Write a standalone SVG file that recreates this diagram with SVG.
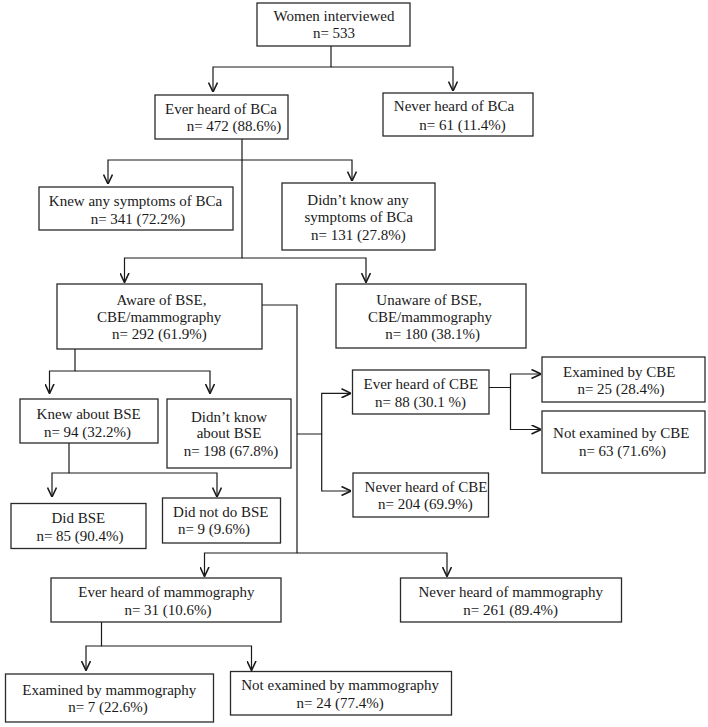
<svg xmlns="http://www.w3.org/2000/svg" width="708" height="727" viewBox="0 0 708 727">
<style>
.box{fill:#fff;stroke:#2a2a2a;stroke-width:1.3}
.t{font-family:"Liberation Serif","Times New Roman",serif;font-size:15px;fill:#1a1a1a;text-anchor:middle}
.c{fill:none;stroke:#1a1a1a;stroke-width:1.2}
</style>
<defs>
<marker id="ah" viewBox="0 0 10 10" refX="10" refY="5" markerWidth="10" markerHeight="10" markerUnits="userSpaceOnUse" orient="auto">
<path d="M0.5,0.5 L10,5 L0.5,9.5" fill="none" stroke="#1a1a1a" stroke-width="1.6"/>
</marker>
</defs>
<rect width="708" height="727" fill="#fff"/>
<g id="connectors">
<path class="c" marker-end="url(#ah)" d="M331,46 V67 H213 V92"/>
<path class="c" marker-end="url(#ah)" d="M331,67 H453 V91"/>
<path class="c" marker-end="url(#ah)" d="M242,139 V160 H108 V184"/>
<path class="c" marker-end="url(#ah)" d="M242,160 H352 V181"/>
<path class="c" marker-end="url(#ah)" d="M242,160 V258 H124.5 V282.5"/>
<path class="c" marker-end="url(#ah)" d="M242,258 H366 V282.5"/>
<path class="c" marker-end="url(#ah)" d="M75,349 V371 H49.5 V393.5"/>
<path class="c" marker-end="url(#ah)" d="M75,371 H210 V393.5"/>
<path class="c" marker-end="url(#ah)" d="M69,443 V473 H52 V497"/>
<path class="c" marker-end="url(#ah)" d="M69,473 H217 V497"/>
<path class="c" marker-end="url(#ah)" d="M262,305 H297 V553 H204.5 V576.5"/>
<path class="c" marker-end="url(#ah)" d="M297,553 H447 V576.5"/>
<path class="c" marker-end="url(#ah)" d="M297,434 H321.7 V393.3 H351"/>
<path class="c" marker-end="url(#ah)" d="M321.7,434 V491 H351"/>
<path class="c" marker-end="url(#ah)" d="M489,387.5 H510.5 V374 H541"/>
<path class="c" marker-end="url(#ah)" d="M510.5,387.5 V429.5 H541"/>
<path class="c" marker-end="url(#ah)" d="M101.5,622 V646 H86 V670.5"/>
<path class="c" marker-end="url(#ah)" d="M101.5,646 H251.5 V670.5"/>
</g>
<g id="n1"><rect class="box" x="257" y="3" width="153" height="43"/><text class="t" x="334" y="21">Women interviewed</text><text class="t" x="334" y="37.5">n= 533</text></g>
<g id="n2"><rect class="box" x="155" y="95" width="133" height="44"/><text class="t" x="221" y="114">Ever heard of BCa</text><text class="t" x="234" y="131">n= 472 (88.6%)</text></g>
<g id="n3"><rect class="box" x="383" y="93" width="150" height="43"/><text class="t" x="454" y="111">Never heard of BCa</text><text class="t" x="462.5" y="129.5">n= 61 (11.4%)</text></g>
<g id="n4"><rect class="box" x="39" y="187" width="194" height="43"/><text class="t" x="135.5" y="206">Knew any symptoms of BCa</text><text class="t" x="138" y="224">n= 341 (72.2%)</text></g>
<g id="n5"><rect class="box" x="282" y="183" width="153" height="67"/><text class="t" x="358" y="205">Didn’t know any</text><text class="t" x="358.7" y="222">symptoms of BCa</text><text class="t" x="358.3" y="239.5">n= 131 (27.8%)</text></g>
<g id="n6"><rect class="box" x="57" y="284" width="205" height="65"/><text class="t" x="161.5" y="305">Aware of BSE,</text><text class="t" x="159.2" y="322">CBE/mammography</text><text class="t" x="159.3" y="339.3">n= 292 (61.9%)</text></g>
<g id="n7"><rect class="box" x="336" y="284" width="190" height="64"/><text class="t" x="429" y="305">Unaware of BSE,</text><text class="t" x="430" y="322">CBE/mammography</text><text class="t" x="432.7" y="339">n= 180 (38.1%)</text></g>
<g id="n8"><rect class="box" x="20" y="399" width="138" height="44"/><text class="t" x="88.7" y="419.3">Knew about BSE</text><text class="t" x="87.5" y="436.7">n= 94 (32.2%)</text></g>
<g id="n9"><rect class="box" x="167" y="399" width="124" height="69"/><text class="t" x="229" y="421.7">Didn’t know</text><text class="t" x="229" y="438.3">about BSE</text><text class="t" x="231" y="456">n= 198 (67.8%)</text></g>
<g id="n10"><rect class="box" x="11" y="503.5" width="135" height="45"/><text class="t" x="78.3" y="523.3">Did BSE</text><text class="t" x="80" y="541">n= 85 (90.4%)</text></g>
<g id="n11"><rect class="box" x="162.5" y="498" width="118" height="45"/><text class="t" x="220.8" y="517">Did not do BSE</text><text class="t" x="214" y="534">n= 9 (9.6%)</text></g>
<g id="n12"><rect class="box" x="352.5" y="370" width="136.5" height="44"/><text class="t" x="420.8" y="389.3">Ever heard of CBE</text><text class="t" x="420.5" y="406.7">n= 88 (30.1 %)</text></g>
<g id="n13"><rect class="box" x="353" y="473" width="135.5" height="44"/><text class="t" x="426" y="491.7">Never heard of CBE</text><text class="t" x="425.3" y="509">n= 204 (69.9%)</text></g>
<g id="n14"><rect class="box" x="542" y="357" width="163" height="45"/><text class="t" x="619.3" y="376.7">Examined by CBE</text><text class="t" x="621" y="394">n= 25 (28.4%)</text></g>
<g id="n15"><rect class="box" x="542" y="411" width="163" height="62"/><text class="t" x="621.2" y="438.3">Not examined by CBE</text><text class="t" x="622.5" y="456">n= 63 (71.6%)</text></g>
<g id="n16"><rect class="box" x="51" y="578" width="230" height="44"/><text class="t" x="166.4" y="597.3">Ever heard of mammography</text><text class="t" x="168" y="615">n= 31 (10.6%)</text></g>
<g id="n17"><rect class="box" x="400.5" y="578" width="221" height="44"/><text class="t" x="510.8" y="597.3">Never heard of mammography</text><text class="t" x="510.6" y="615">n= 261 (89.4%)</text></g>
<g id="n18"><rect class="box" x="5.5" y="674" width="208" height="48"/><text class="t" x="109.3" y="695">Examined by mammography</text><text class="t" x="108" y="711.7">n= 7 (22.6%)</text></g>
<g id="n19"><rect class="box" x="230.5" y="671.5" width="221" height="43.5"/><text class="t" x="340.2" y="690">Not examined by mammography</text><text class="t" x="340.2" y="708.3">n= 24 (77.4%)</text></g>
</svg>
